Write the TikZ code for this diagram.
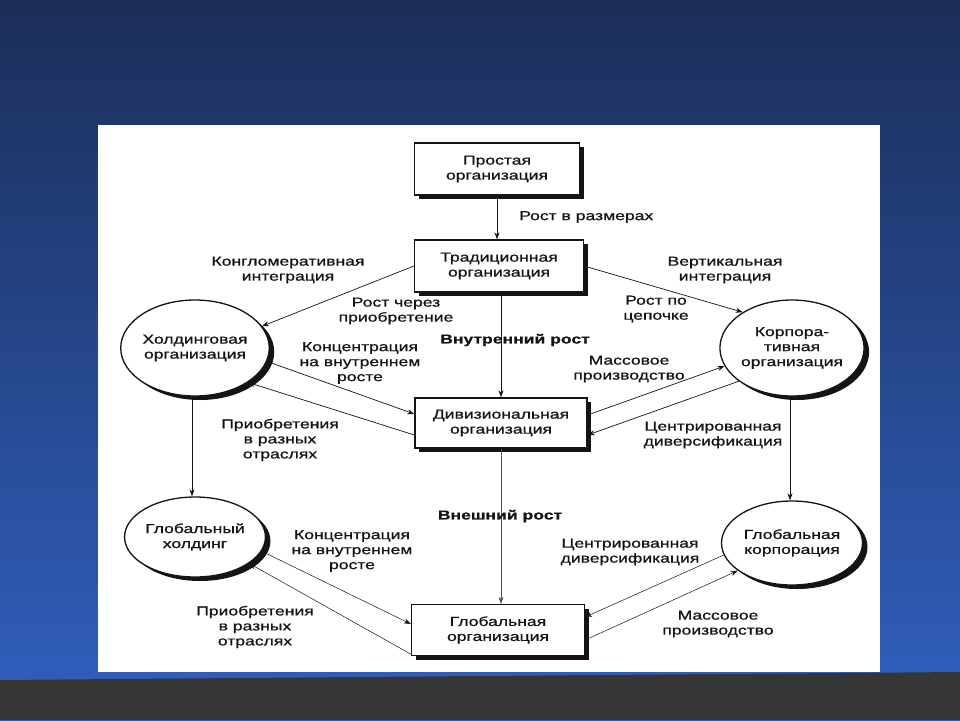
\documentclass[tikz,border=0pt]{standalone}
\usepackage{fontspec}
\setmainfont{Liberation Sans}[FakeStretch=1.35,FakeBold=0.8]
\usetikzlibrary{shapes.geometric,arrows.meta,shadows,calc}
\definecolor{bgtop}{RGB}{28,46,88}
\definecolor{bgbot}{RGB}{48,96,192}
\definecolor{band}{RGB}{54,54,54}
\definecolor{ink}{RGB}{20,20,20}
\begin{document}
\begin{tikzpicture}[x=1pt,y=-1pt,
  every node/.style={font=\fontsize{13}{15}\selectfont, text=ink},
  lbl/.style={align=center, inner sep=0pt},
  blbl/.style={inner sep=0pt, font=\fontsize{13}{15}\selectfont\bfseries},
  orgbox/.style={draw=ink, line width=1.3pt, fill=white, align=center, minimum width=170pt, minimum height=51pt, inner sep=2pt,
    drop shadow={shadow xshift=4pt, shadow yshift=-4pt, fill=ink, opacity=1}},
  orgell/.style={ellipse, draw=ink, line width=1.3pt, fill=white, align=center, inner sep=0pt,
    drop shadow={shadow xshift=5pt, shadow yshift=-4pt, fill=ink, opacity=1}},
  conn/.style={draw=ink, line width=0.7pt, -{Stealth[length=7pt,width=5pt]}},
]
\useasboundingbox (0,0) rectangle (960,720);
% background
\shade[top color=bgtop, bottom color=bgbot] (0,0) rectangle (960,720);
\fill[band] (0,680) -- (960,672) -- (960,720) -- (0,720) -- cycle;
\fill[white] (98,125) rectangle (880,672);

% boxes
\node[orgbox, minimum width=165pt, minimum height=52pt] (simple) at (497,169) {Простая\\организация};
\node[orgbox, minimum width=169pt, minimum height=52pt] (trad) at (499,266) {Традиционная\\организация};
\node[orgbox, minimum width=172pt, minimum height=50pt] (div) at (501,423) {Дивизиональная\\организация};
\node[orgbox, minimum width=173pt, minimum height=51pt] (glob) at (498,630) {Глобальная\\организация};

% ellipses
\node[orgell, minimum width=140pt, minimum height=96pt] (hold) at (195,348) {Холдинговая\\организация};
\node[orgell, minimum width=136pt, minimum height=96pt] (corp) at (792,348) {Корпора-\\тивная\\организация};
\node[orgell, minimum width=140pt, minimum height=80pt] (gh) at (195,537) {Глобальный\\холдинг};
\node[orgell, minimum width=141pt, minimum height=84pt] (gc) at (792,543) {Глобальная\\корпорация};

% connectors
\draw[conn] (simple.south) -- (simple.south |- trad.north);
\draw[conn] (trad.west) -- (hold.18);
\draw[conn] (trad.east) -- (corp.144);
\draw[conn] (trad.south -| div.north) -- (div.north);
\draw[conn] ([yshift=2pt]hold.-12) -- ([yshift=9pt]div.west);
\draw[conn] ([yshift=-12pt]div.west) -- (hold.-33);
\draw[conn] ([yshift=8pt]div.east) -- (corp.195);
\draw[conn] (corp.212) -- ([yshift=-12pt]div.east);
\draw[conn] ([xshift=-3pt]hold.south) -- ([xshift=-3pt]gh.north);
\draw[conn] ([xshift=-2pt]corp.south) -- ([xshift=-2pt]gc.north);
\draw[conn, draw=ink!75, line width=0.5pt] (div.south) -- (div.south |- glob.north);
\draw[conn, line width=0.5pt] (gh.-12) -- ([yshift=6pt]glob.west);
\draw[conn, line width=0.5pt] ([yshift=2pt]glob.south west) -- (gh.-26);
\draw[conn, line width=0.5pt] (gc.190) -- ([yshift=13pt]glob.east);
\draw[conn, line width=0.5pt] ([yshift=-10pt]glob.east) -- (gc.207);

% labels
\node[lbl, anchor=west] (l1) at (519,217) {Рост в размерах};
\node[lbl] (l2) at (288,270) {Конгломеративная\\интеграция};
\node[lbl] (l3) at (396,311) {Рост через\\приобретение};
\node[lbl] (l4) at (725,270) {Вертикальная\\интеграция};
\node[lbl] (l5) at (656,309) {Рост по\\цепочке};
\node[blbl] (l6) at (515,340) {Внутренний рост};
\node[lbl] (l7) at (360,363) {Концентрация\\на внутреннем\\росте};
\node[lbl] (l8) at (280,440) {Приобретения\\в разных\\отраслях};
\node[lbl] (l9) at (629,369) {Массовое\\производство};
\node[lbl] (l10) at (713,435) {Центрированная\\диверсификация};
\node[blbl] (l11) at (500,516) {Внешний рост};
\node[lbl] (l12) at (352,551) {Концентрация\\на внутреннем\\росте};
\node[lbl] (l13) at (255,627) {Приобретения\\в разных\\отраслях};
\node[lbl] (l14) at (630,552) {Центрированная\\диверсификация};
\node[lbl] (l15) at (718,624) {Массовое\\производство};
\end{tikzpicture}
\end{document}
